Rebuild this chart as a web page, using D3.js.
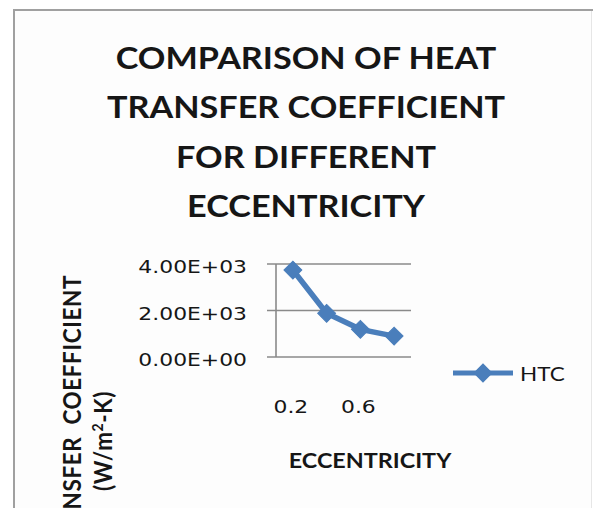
<!DOCTYPE html>
<html>
<head>
<meta charset="utf-8">
<script src="https://cdn.jsdelivr.net/npm/d3@7"></script>
<style>
  html, body { margin: 0; padding: 0; background: #ffffff; }
  svg { display: block; }
</style>
</head>
<body>
<svg id="chart" width="593" height="508"></svg>
<script>
// Heat transfer coefficient vs. eccentricity
const eccentricity = ["0.2", "0.4", "0.6", "0.8"];
const htcValues = [3740, 1880, 1190, 900];
const yTickValues = [0, 2000, 4000];
const xTickLabels = ["0.2", "0.6"];
const seriesName = "HTC";
const titleLines = ["COMPARISON OF HEAT", "TRANSFER COEFFICIENT", "FOR DIFFERENT", "ECCENTRICITY"];
const xAxisTitle = "ECCENTRICITY";
const yAxisTitle = ["HEAT TRANSFER COEFFICIENT", "(W/m", "2", "-K)"];

const SX_TITLE = 1.14;       // horizontal stretch of the bold heading text
const SX_TICK = 1.25;        // horizontal stretch of the tick / legend text
const blue = "#4a7ebb";
const gridColor = "#8a8a8a";
const textColor = "#161616";

const svg = d3.select("#chart");

// chart area frame
svg.append("rect").attr("x", 0).attr("y", 0).attr("width", 593).attr("height", 508).attr("fill", "#ffffff");
svg.append("rect").attr("x", 14).attr("y", 10).attr("width", 578).attr("height", 520)
  .attr("fill", "#fdfdfd").attr("stroke", "none");
svg.append("line").attr("x1", 14).attr("x2", 14).attr("y1", 10).attr("y2", 508)
  .attr("stroke", "#a0a0a0").attr("stroke-width", 2);
svg.append("line").attr("x1", 13).attr("x2", 593).attr("y1", 10).attr("y2", 10)
  .attr("stroke", "#a0a0a0").attr("stroke-width", 2);
svg.append("line").attr("x1", 591.5).attr("x2", 591.5).attr("y1", 11).attr("y2", 508)
  .attr("stroke", "#e6e6e6").attr("stroke-width", 1);

// title
const title = svg.append("g")
  .attr("font-family", "Lato, 'Open Sans', sans-serif")
  .attr("font-weight", 700)
  .attr("font-size", 30)
  .attr("fill", textColor);
title.selectAll("text").data(titleLines).enter().append("text")
  .attr("text-anchor", "middle")
  .attr("transform", (d, i) => `translate(306,${69 + i * 49.3}) scale(${SX_TITLE},1)`)
  .text(d => d);

// scales
const plot = { left: 276, right: 411, top: 264, bottom: 357 };
const x = d3.scaleBand().domain(eccentricity).range([plot.left, plot.right]);
const y = d3.scaleLinear().domain([0, 4000]).range([plot.bottom, plot.top]);
const cx = d => x(d) + x.bandwidth() / 2;

const fmtE = v => {
  const e = v === 0 ? 0 : Math.floor(Math.log10(Math.abs(v)));
  const m = v / Math.pow(10, e);
  return m.toFixed(2) + "E+" + String(e).padStart(2, "0");
};

// gridlines
svg.append("g").selectAll("line").data(yTickValues).enter().append("line")
  .attr("x1", plot.left - 9).attr("x2", plot.right)
  .attr("y1", d => y(d)).attr("y2", d => y(d))
  .attr("stroke", gridColor).attr("stroke-width", 1.6);

// vertical axis line
svg.append("line").attr("x1", plot.left).attr("x2", plot.left)
  .attr("y1", y(4000)).attr("y2", y(0))
  .attr("stroke", gridColor).attr("stroke-width", 1.6);

// y tick labels
svg.append("g").selectAll("text").data(yTickValues).enter().append("text")
  .attr("font-family", "'DejaVu Sans', sans-serif")
  .attr("font-size", 17.5)
  .attr("fill", textColor)
  .attr("text-anchor", "end")
  .attr("transform", d => `translate(247,${y(d) + 9}) scale(${SX_TICK},1)`)
  .text(d => fmtE(d));

// x tick labels
svg.append("g").selectAll("text").data(xTickLabels).enter().append("text")
  .attr("font-family", "'DejaVu Sans', sans-serif")
  .attr("font-size", 17.5)
  .attr("fill", textColor)
  .attr("text-anchor", "middle")
  .attr("transform", d => `translate(${cx(d) - 2},413) scale(${SX_TICK},1)`)
  .text(d => d);

// series line
const line = d3.line().x((d, i) => cx(eccentricity[i])).y(d => y(d));
svg.append("path").datum(htcValues)
  .attr("d", line)
  .attr("fill", "none")
  .attr("stroke", blue)
  .attr("stroke-width", 5.5)
  .attr("stroke-linejoin", "round");

// diamond markers
const diamond = d3.symbol().type(d3.symbolSquare).size(160);
svg.append("g").selectAll("path").data(htcValues).enter().append("path")
  .attr("d", diamond)
  .attr("transform", (d, i) => `translate(${cx(eccentricity[i])},${y(d)}) rotate(45)`)
  .attr("fill", blue)
  .attr("stroke", blue)
  .attr("stroke-width", 1);

// x axis title
svg.append("text")
  .attr("font-family", "Lato, 'Open Sans', sans-serif")
  .attr("font-weight", 700)
  .attr("font-size", 20.5)
  .attr("fill", textColor)
  .attr("text-anchor", "middle")
  .attr("transform", `translate(370,468) scale(${SX_TITLE},1)`)
  .text(xAxisTitle);

// y axis title (two rotated lines)
const yt = svg.append("g")
  .attr("font-family", "Lato, 'Open Sans', sans-serif")
  .attr("font-weight", 700)
  .attr("font-size", 22.5)
  .attr("fill", textColor);
yt.append("text")
  .attr("text-anchor", "end")
  .attr("letter-spacing", 0.6)
  .attr("word-spacing", 6)
  .attr("transform", `translate(81,275) scale(${SX_TITLE},1) rotate(-90)`)
  .text(yAxisTitle[0]);
const unit = yt.append("text")
  .attr("text-anchor", "middle")
  .attr("letter-spacing", 0.6)
  .attr("transform", `translate(112,441) scale(${SX_TITLE},1) rotate(-90)`);
unit.append("tspan").text(yAxisTitle[1]);
unit.append("tspan").attr("font-size", 14).attr("dy", -8).text(yAxisTitle[2]);
unit.append("tspan").attr("dy", 8).text(yAxisTitle[3]);

// legend
const lg = svg.append("g");
lg.append("line").attr("x1", 453).attr("x2", 513).attr("y1", 373).attr("y2", 373)
  .attr("stroke", blue).attr("stroke-width", 5);
lg.append("path").attr("d", diamond)
  .attr("transform", "translate(483,373) rotate(45)")
  .attr("fill", blue).attr("stroke", blue).attr("stroke-width", 1);
lg.append("text")
  .attr("font-family", "Lato, 'Open Sans', sans-serif")
  .attr("font-size", 19)
  .attr("fill", textColor)
  .attr("transform", `translate(520,381) scale(${SX_TICK * 0.95},1)`)
  .text(seriesName);
</script>
</body>
</html>
